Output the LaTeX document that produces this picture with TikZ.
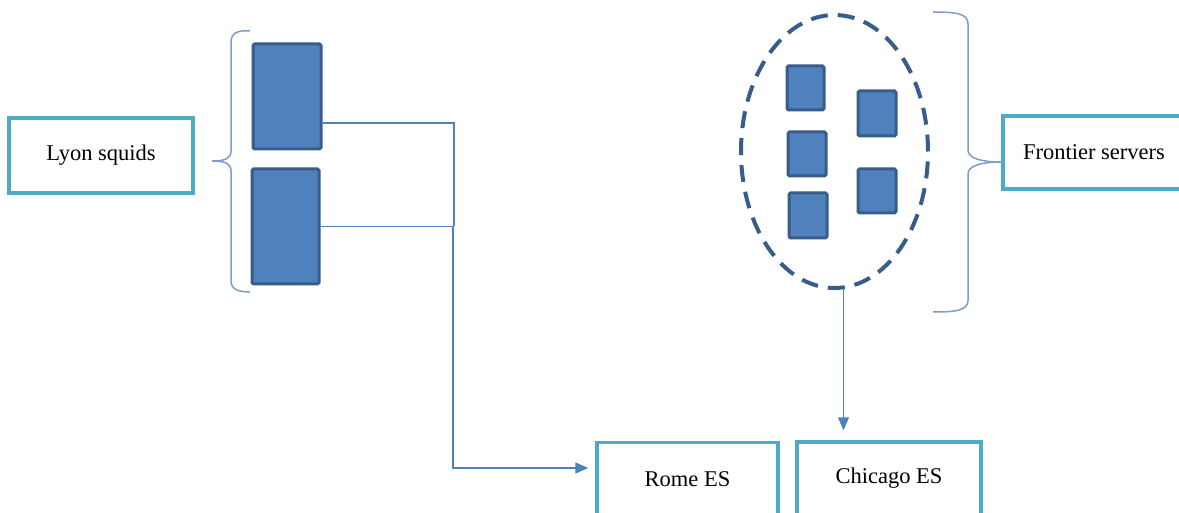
\documentclass[tikz,border=0pt]{standalone}
\usepackage{fontspec}
\setmainfont{Liberation Serif}
\usetikzlibrary{arrows.meta,shapes.geometric}
\definecolor{tealc}{HTML}{4BACC6}
\definecolor{bluef}{HTML}{4F81BD}
\definecolor{blued}{HTML}{385D8A}
\definecolor{bracec}{HTML}{7F9CC8}
\tikzset{
  labelbox/.style={draw=tealc,line width=3.5pt,fill=white,inner sep=0pt,font=\fontsize{22.5}{27}\selectfont},
  server/.style={draw=blued,fill=bluef,line width=3pt,rounded corners=1.5pt,inner sep=0pt},
  conn/.style={draw=bluef,line width=1.4pt},
  arr/.style={conn,-{Triangle[length=13pt,width=11pt]}},
  bracep/.style={draw=bracec,line width=1.5pt},
  cloud/.style={draw=blued,line width=4pt,dash pattern=on 17pt off 10pt,ellipse,inner sep=0pt}
}
\begin{document}
\begin{tikzpicture}[x=1pt,y=-1pt]
\useasboundingbox (0,0) rectangle (1179,513);
\clip (0,0) rectangle (1179,513);
\fill[white] (0,0) rectangle (1179,513);
% label boxes
\node[labelbox,minimum width=184pt,minimum height=75pt] (lyon) at (101,155.5) {Lyon squids};
\node[labelbox,minimum width=181pt,minimum height=73pt] (rome) at (687.5,479) {Rome ES};
\node[labelbox,minimum width=184pt,minimum height=73pt] (chicago) at (889,478.5) {Chicago ES};
\node[labelbox,minimum width=182pt,minimum height=73pt] (frontier) at (1094,152.5) {Frontier servers};
% Lyon squid servers
\node[server,minimum width=68pt,minimum height=105pt] (sqa) at (287,96.5) {};
\node[server,minimum width=67pt,minimum height=115pt] (sqb) at (285.5,226.5) {};
% frontier servers
\node[cloud,minimum width=187pt,minimum height=273pt] (ell) at (834.5,151.5) {};
\node[server,minimum width=37pt,minimum height=44pt] (fa) at (805.5,88) {};
\node[server,minimum width=38pt,minimum height=45pt] (fb) at (877,113.5) {};
\node[server,minimum width=38pt,minimum height=44pt] (fc) at (807,154) {};
\node[server,minimum width=38pt,minimum height=44pt] (fd) at (877,191) {};
\node[server,minimum width=38pt,minimum height=45pt] (fe) at (808,215.5) {};
% braces
\draw[bracep] (250,31) .. controls (238,30) and (231,33) .. (231,42) -- (231,151)
  .. controls (231,158) and (226,161) .. (212,161)
  .. controls (226,161) and (231,164) .. (231,171) -- (231,281)
  .. controls (231,289) and (238,292) .. (250,292);
\draw[bracep] (933,12) .. controls (958,12) and (968,14) .. (968,24) -- (968,150)
  .. controls (968,158) and (980,162) .. (1002,162)
  .. controls (980,162) and (968,166) .. (968,174) -- (968,300)
  .. controls (968,310) and (958,312) .. (933,312);
% connectors
\coordinate (ra) at ([yshift=11pt]rome.west);
\coordinate (ce) at ([xshift=9pt,yshift=1pt]ell.south);
\draw[conn] ([yshift=-26.5pt]sqa.east) -| (454,226);
\draw[arr,shorten >=7pt] (sqb.east) -| (ra -| 453,0) -- (ra);
\draw[arr,shorten >=10pt] (ce) -- (ce |- chicago.north);
\end{tikzpicture}
\end{document}
